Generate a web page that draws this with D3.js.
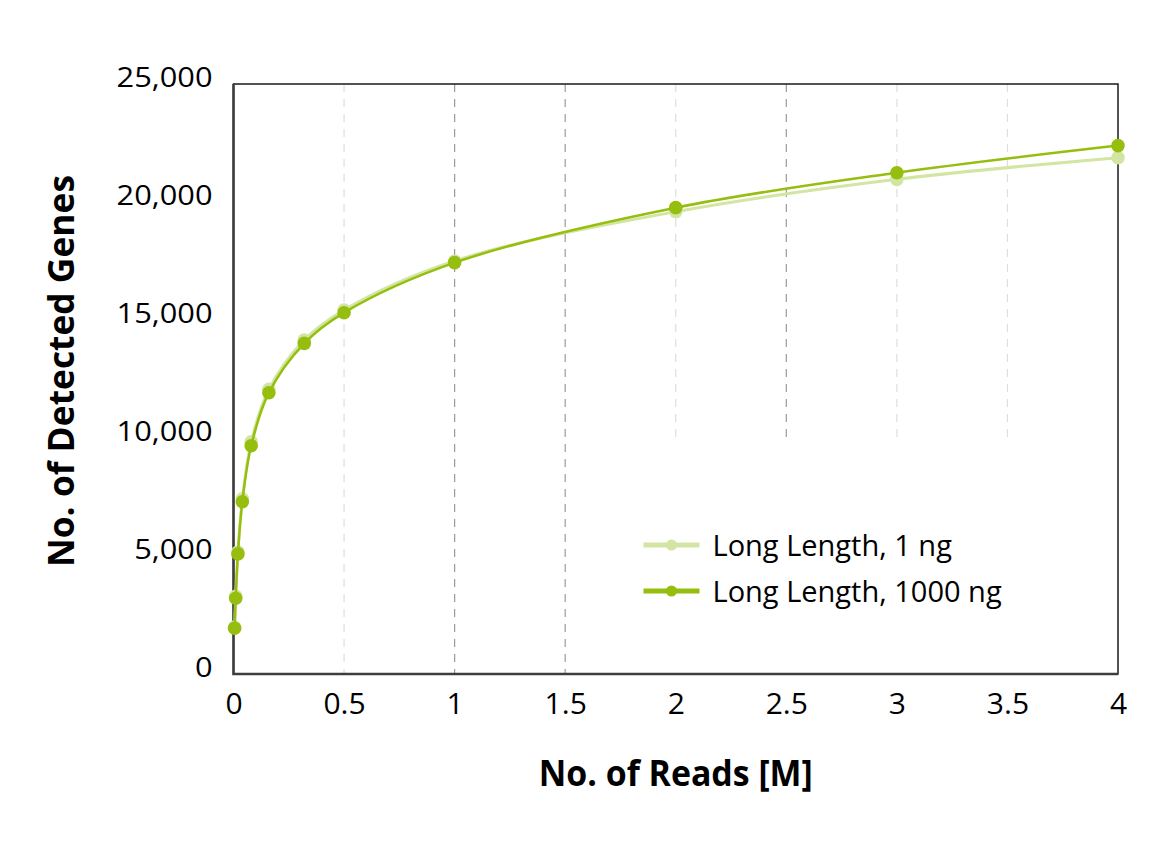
<!DOCTYPE html>
<html>
<head>
<meta charset="utf-8">
<script src="https://cdn.jsdelivr.net/npm/d3@7"></script>
<style>
  body { margin: 0; background: #fff; }
  svg text { font-family: "Open Sans", sans-serif; fill: #111; }
</style>
</head>
<body>
<div class="chartdiv"></div>
<script>
// reads in millions
var reads = [0.005, 0.01, 0.02, 0.04, 0.08, 0.16, 0.32, 0.5, 1, 2, 3, 4];
var genes1ng = [1990, 3290, 5170, 7420, 9840, 12060, 14150, 15420, 17500, 19590, 20960, 21880];
var genes1000ng = [1940, 3210, 5090, 7300, 9670, 11920, 14010, 15310, 17430, 19760, 21240, 22390];
var seriesNames = ["Long Length, 1 ng", "Long Length, 1000 ng"];
var xTicks = [0, 0.5, 1, 1.5, 2, 2.5, 3, 3.5, 4];
var yTicks = [0, 5000, 10000, 15000, 20000, 25000];

var W = 1163, H = 861;
var margin = {top: 84, right: 45, bottom: 187, left: 233.5};
var width = W - margin.left - margin.right;
var height = H - margin.top - margin.bottom;

var x = d3.scaleLinear().domain([0, 4]).range([0, width]);
var y = d3.scaleLinear().domain([0, 25000]).range([height, 0]);

var colors = ["#d3e5a3", "#95be0e"];
var lineWidths = [3, 2.5];

var svg = d3.select(".chartdiv")
    .append("svg")
    .attr("width", W)
    .attr("height", H)
  .append("g")
    .attr("transform", "translate(" + margin.left + "," + margin.top + ")");

// vertical dashed grid, right-hand lines stop at the legend level
var darkGrid = [1, 1.5, 2.5];
svg.selectAll(".grid")
    .data(xTicks.filter(function(d) { return d > 0 && d < 4; }))
  .enter().append("line")
    .attr("x1", function(d) { return x(d); })
    .attr("x2", function(d) { return x(d); })
    .attr("y1", 0)
    .attr("y2", function(d) { return d >= 2 ? y(10000) : height; })
    .attr("stroke", function(d) { return darkGrid.indexOf(d) >= 0 ? "#9a9a9a" : "#dedede"; })
    .attr("stroke-width", 1.2)
    .attr("stroke-dasharray", "8,7");

// frame
svg.append("rect")
    .attr("width", width)
    .attr("height", height)
    .attr("fill", "none")
    .attr("stroke", "#1a1a1a")
    .attr("stroke-width", 1.5);

svg.append("path")
    .attr("d", "M0,0V" + height + "H" + width)
    .attr("fill", "none")
    .attr("stroke", "#3d3d3d")
    .attr("stroke-width", 2.5);

// axes (labels only)
var xAxis = d3.axisBottom(x).tickValues(xTicks).tickSize(0).tickPadding(0)
    .tickFormat(function(d) { return d; });
var gx = svg.append("g")
    .attr("transform", "translate(0," + height + ")")
    .call(xAxis);
gx.select(".domain").remove();
gx.selectAll("text")
    .attr("y", 40)
    .attr("dy", 0)
    .style("font-size", "30px")
    .style("fill", "#000");

var yAxis = d3.axisLeft(y).tickValues(yTicks).tickSize(0).tickPadding(0)
    .tickFormat(d3.format(","));
var gy = svg.append("g").call(yAxis);
gy.select(".domain").remove();
gy.selectAll("text")
    .attr("x", 0)
    .attr("dy", 2)
    .attr("transform", "translate(-21,0) scale(1.14,1)")
    .style("font-size", "27px")
    .style("fill", "#000");

// axis titles
svg.append("text")
    .attr("x", width / 2)
    .attr("y", 702)
    .attr("text-anchor", "middle")
    .attr("textLength", 274)
    .attr("lengthAdjust", "spacingAndGlyphs")
    .style("font-size", "35px")
    .style("font-weight", "bold")
    .style("fill", "#000")
    .text("No. of Reads [M]");

svg.append("text")
    .attr("transform", "translate(-160," + (height / 2 - 8) + ") rotate(-90)")
    .attr("text-anchor", "middle")
    .attr("textLength", 392)
    .attr("lengthAdjust", "spacingAndGlyphs")
    .style("font-size", "36px")
    .style("font-weight", "bold")
    .style("fill", "#000")
    .text("No. of Detected Genes");

// series
var series = [genes1ng, genes1000ng].map(function(vals, i) {
  return {
    name: seriesNames[i],
    values: reads.map(function(r, j) { return {x: r, y: vals[j]}; })
  };
});

var line = d3.line()
    .x(function(d) { return x(d.x); })
    .y(function(d) { return y(d.y); })
    .curve(d3.curveCatmullRom.alpha(0.5));

series.forEach(function(s, i) {
  svg.append("path")
      .datum(s.values)
      .attr("fill", "none")
      .attr("stroke", colors[i])
      .attr("stroke-width", lineWidths[i])
      .attr("d", line);

  svg.selectAll(".pt" + i)
      .data(s.values)
    .enter().append("circle")
      .attr("cx", function(d) { return x(d.x); })
      .attr("cy", function(d) { return y(d.y); })
      .attr("r", 6.8)
      .attr("fill", colors[i]);
});

// legend
var legend = svg.selectAll(".legend")
    .data(series)
  .enter().append("g")
    .attr("transform", function(d, i) { return "translate(410," + (461 + i * 46) + ")"; });

legend.append("line")
    .attr("x1", 0)
    .attr("x2", 56)
    .attr("stroke", function(d, i) { return colors[i]; })
    .attr("stroke-width", 5);

legend.append("circle")
    .attr("cx", 28)
    .attr("r", 5.5)
    .attr("fill", function(d, i) { return colors[i]; });

legend.append("text")
    .attr("x", 69)
    .attr("y", 11)
    .style("font-size", "29px")
    .style("fill", "#000")
    .text(function(d) { return d.name; });
</script>
</body>
</html>
